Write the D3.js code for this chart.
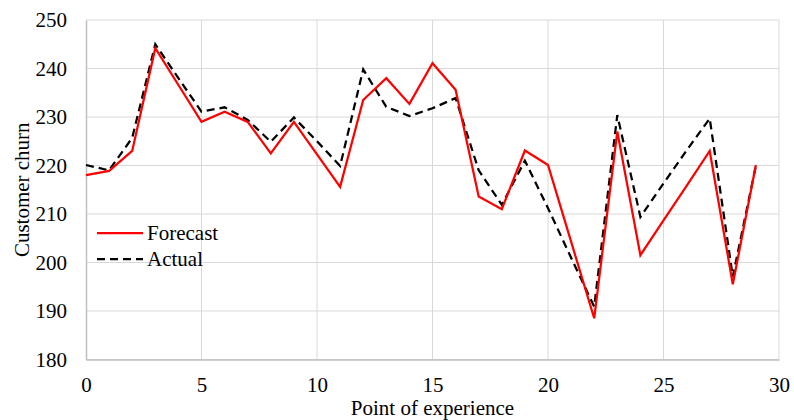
<!DOCTYPE html>
<html>
<head>
<meta charset="utf-8">
<script src="https://cdn.jsdelivr.net/npm/d3@7"></script>
<style>
  body { margin: 0; background: #fff; }
  svg text { font-family: "Liberation Serif", "Times New Roman", serif; fill: #000; font-size: 21px; }
</style>
</head>
<body>
<div id="chart"></div>
<script>
// Data
const points = d3.range(0, 30);
const forecast = [218.0, 218.9, 223.0, 244.2, 236.6, 229.0, 231.1, 229.0, 222.5, 229.0,
                  222.3, 215.6, 233.5, 238.0, 232.7, 241.1, 235.6, 213.6, 211.0, 223.1,
                  220.1, 204.3, 188.5, 227.0, 201.5, 208.7, 215.8, 223.0, 195.5, 220.1];
const actual   = [220.1, 219.0, 225.7, 245.0, 238.0, 231.1, 232.0, 229.4, 224.9, 229.9,
                  225.0, 219.9, 239.8, 232.1, 230.2, 231.8, 233.9, 219.0, 211.9, 221.0,
                  211.2, 201.0, 190.9, 230.4, 209.4, 216.3, 223.1, 229.7, 197.1, 220.0];
const xTicks = [0, 5, 10, 15, 20, 25, 30];
const yTicks = [180, 190, 200, 210, 220, 230, 240, 250];

const W = 794, H = 420;
const margin = { top: 20, right: 15, bottom: 60.5, left: 86 },
      width = W - margin.left - margin.right,
      height = H - margin.top - margin.bottom;

const svg = d3.select("#chart")
    .append("svg")
    .attr("width", W)
    .attr("height", H);

const g = svg.append("g")
    .attr("transform", `translate(${margin.left},${margin.top})`);

const x = d3.scaleLinear().domain([0, 30]).range([0, width]);
const y = d3.scaleLinear().domain([180, 250]).range([height, 0]);

// Gridlines
g.append("g")
    .selectAll("line")
    .data(yTicks)
    .enter().append("line")
    .attr("x1", 0).attr("x2", width)
    .attr("y1", d => y(d)).attr("y2", d => y(d))
    .attr("stroke", "#d9d9d9").attr("stroke-width", 1);

g.append("g")
    .selectAll("line")
    .data(xTicks.slice(1))
    .enter().append("line")
    .attr("x1", d => x(d)).attr("x2", d => x(d))
    .attr("y1", 0).attr("y2", height)
    .attr("stroke", "#d9d9d9").attr("stroke-width", 1);

// Axes
const xAxis = g.append("g")
    .attr("transform", `translate(0,${height})`)
    .call(d3.axisBottom(x).tickValues(xTicks).tickSize(0).tickPadding(0));
xAxis.select(".domain").attr("stroke", "#bfbfbf").attr("stroke-width", 1.5);
xAxis.selectAll("text").attr("dy", null).attr("y", 32.5);

const yAxis = g.append("g")
    .call(d3.axisLeft(y).tickValues(yTicks).tickSize(0).tickPadding(19));
yAxis.select(".domain").attr("stroke", "#bfbfbf").attr("stroke-width", 1.5);

// Axis titles
svg.append("text")
    .attr("x", margin.left + width / 2)
    .attr("y", 415)
    .attr("text-anchor", "middle")
    .text("Point of experience");

svg.append("text")
    .attr("transform", `translate(29,${margin.top + height / 2}) rotate(-90)`)
    .attr("text-anchor", "middle")
    .text("Customer churn");

// Lines
const line = d3.line()
    .x((d, i) => x(points[i]))
    .y(d => y(d));

g.append("path")
    .datum(actual)
    .attr("fill", "none")
    .attr("stroke", "#000")
    .attr("stroke-width", 2.25)
    .attr("stroke-dasharray", "8,5")
    .attr("d", line);

g.append("path")
    .datum(forecast)
    .attr("fill", "none")
    .attr("stroke", "#ff0000")
    .attr("stroke-width", 2.25)
    .attr("d", line);

// Legend
const legend = svg.append("g").attr("transform", "translate(97,233)");
const items = [
    { name: "Forecast", color: "#ff0000", dash: null },
    { name: "Actual", color: "#000", dash: "8,5" }
];
items.forEach((it, i) => {
    legend.append("line")
        .attr("x1", 0).attr("x2", 46)
        .attr("y1", i * 26).attr("y2", i * 26)
        .attr("stroke", it.color)
        .attr("stroke-width", 2.25)
        .attr("stroke-dasharray", it.dash);
    legend.append("text")
        .attr("x", 50)
        .attr("y", i * 26 + 6.5)
        .text(it.name);
});
</script>
</body>
</html>
